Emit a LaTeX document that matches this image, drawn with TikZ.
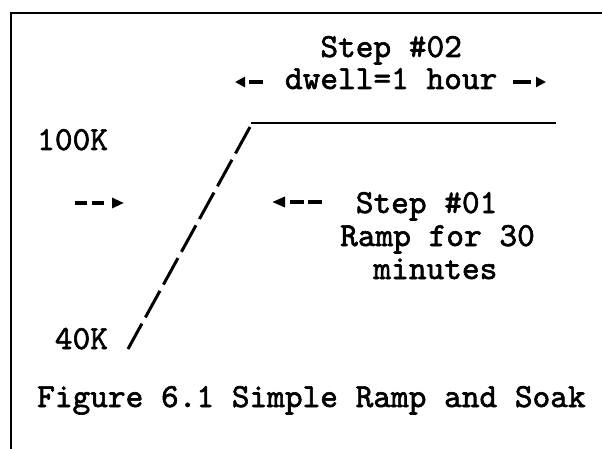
\documentclass[tikz,border=0pt]{standalone}
\usepackage{fontspec}
\newfontfamily\courfont[Extension=.otf, FakeBold=1.8]{lmmono10-regular}
\usetikzlibrary{arrows.meta}
\begin{document}
\begin{tikzpicture}[x=1pt,y=-1pt,
  txt/.style={font=\courfont\fontsize{33.7}{36}\selectfont, inner sep=0pt, anchor=base west},
  frameline/.style={line width=2pt},
  levelline/.style={line width=2.5pt},
  rampline/.style={line width=3pt, dash pattern=on 30.2pt off 7.2pt},
  dasharrow/.style={line width=3.2pt, dash pattern=on 12pt off 5pt on 12pt off 30pt, -{Triangle[length=12pt,width=10pt]}}]
\useasboundingbox (0,0) rectangle (602,449);
% frame
\coordinate (fbl) at (11,449);
\coordinate (ftl) at (11,13);
\coordinate (ftr) at (602,13);
\draw[frameline] (fbl) -- (ftl) -- (ftr);
% texts (monospace grid: x = 37 + col*17.7)
\node[txt] (s2) at (320.2,57) {Step \#02};
\node[txt] (dw) at (284.8,89) {dwell=1 hour};
\node[txt] (k100) at (37,150) {100K};
\node[txt] (s1) at (355.6,213) {Step \#01};
\node[txt] (rmp) at (340,246) {Ramp for 30};
\node[txt] (mn) at (373.3,279) {minutes};
\node[txt] (k40) at (54.7,349) {40K};
\node[txt] (fig) at (37,407) {Figure 6.1 Simple Ramp and Soak};
% dwell arrows
\coordinate (dwlA) at (263,82);
\coordinate (dwlB) at (235,82);
\coordinate (dwrA) at (513,82);
\coordinate (dwrB) at (546,82);
\draw[dasharrow, dash pattern=on 14pt off 6pt, -{Triangle[length=10pt,width=10pt]}] (dwlA) -- (dwlB);
\draw[dasharrow, dash pattern=on 18pt off 6pt, -{Triangle[length=10pt,width=10pt]}] (dwrA) -- (dwrB);
% level line and ramp
\coordinate (top) at (250,127);
\coordinate (lvA) at (251,123);
\coordinate (lvB) at (556,123);
\coordinate (bot) at (128,349);
\draw[levelline] (lvA) -- (lvB);
\draw[rampline] (top) -- (bot);
% step 01 arrows
\coordinate (alA) at (75,203);
\coordinate (alB) at (124,203);
\coordinate (arA) at (322,202);
\coordinate (arB) at (272,202);
\draw[dasharrow] (alA) -- (alB);
\draw[dasharrow, dash pattern=on 14pt off 4pt on 14pt off 30pt, -{Triangle[length=13pt,width=10pt]}] (arA) -- (arB);
\end{tikzpicture}
\end{document}
